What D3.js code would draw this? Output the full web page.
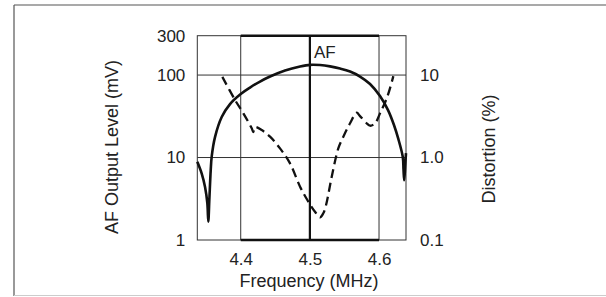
<!DOCTYPE html>
<html>
<head>
<meta charset="utf-8">
<script src="https://cdn.jsdelivr.net/npm/d3@7"></script>
<style>
    body { margin: 0; background: #fff; }
    text { font-family: Arial, "Liberation Sans", sans-serif; fill: #222; }
</style>
</head>
<body>
<div id="chart"></div>
<script>
// AF output level (mV) vs frequency (MHz) - solid curve
const af_freq = [4.3372, 4.3436, 4.3484, 4.3517, 4.3531, 4.3546, 4.3566, 4.3581, 4.3628, 4.3725, 4.3845,
    4.4000, 4.4134, 4.4279, 4.4424, 4.4641, 4.4858, 4.5003, 4.5147, 4.5292, 4.5436, 4.5581,
    4.5725, 4.5870, 4.6014, 4.6130, 4.6216, 4.6279, 4.6343, 4.6354, 4.6364, 4.6379, 4.6390];
const af_level = [8.9, 6.4, 4.4, 2.8, 1.67, 3.05, 7.0, 10.4, 17.7, 31.0, 44.5,
    58.9, 70.5, 83.4, 95.9, 113.4, 126.8, 133, 132.2, 127.4, 119.9, 110.2,
    95.9, 77.8, 55.6, 37.6, 24.8, 16.8, 10.2, 7.1, 5.3, 8.1, 11.3];

// Distortion (%) vs frequency (MHz) - dashed curve
const dist_freq = [4.3734, 4.3918, 4.4038, 4.4159, 4.4182, 4.4207, 4.4304, 4.4424, 4.4568, 4.4713,
    4.4858, 4.4978, 4.5074, 4.5147, 4.5194, 4.5234, 4.5316, 4.5411, 4.5484, 4.5581,
    4.5677, 4.5725, 4.5822, 4.5870, 4.5942, 4.6014, 4.6120, 4.6207];
const dist_pct = [9.5, 4.98, 3.43, 2.26, 2.04, 2.34, 2.15, 1.79, 1.29, 0.85,
    0.443, 0.291, 0.220, 0.188, 0.211, 0.266, 0.585, 1.29, 1.79, 2.60,
    3.49, 3.18, 2.60, 2.43, 2.60, 3.43, 5.46, 9.7];

const x_ticks = [4.4, 4.5, 4.6];
const x_tick_labels = ['4.4', '4.5', '4.6'];
const left_ticks = [1, 10, 100, 300];
const left_tick_labels = ['1', '10', '100', '300'];
const right_ticks = [0.1, 1, 10];
const right_tick_labels = ['0.1', '1.0', '10'];
const grid_levels = [10, 100];

const width = 606;
const height = 297;

const svg = d3.select('#chart')
    .append('svg')
    .attr('width', width)
    .attr('height', height);

// outer frame
svg.append('line').attr('x1', 14).attr('y1', 5).attr('x2', width).attr('y2', 5)
    .attr('stroke', '#555').attr('stroke-width', 1.2);
svg.append('line').attr('x1', 14).attr('y1', 5).attr('x2', 14).attr('y2', 296)
    .attr('stroke', '#555').attr('stroke-width', 1.2);
svg.append('line').attr('x1', 14).attr('y1', 295.5).attr('x2', width).attr('y2', 295.5)
    .attr('stroke', '#ccc').attr('stroke-width', 1);

// Scales
const x_scale = d3.scaleLinear()
    .domain([4.3372, 4.639])
    .range([197.3, 406]);

const y_left = d3.scaleLog()
    .domain([1, 300])
    .range([240, 35.7]);

const y_right = d3.scaleLog()
    .domain([0.1, 30])
    .range([240, 35.7]);

const [x0, x1] = x_scale.range();
const [y0, y1] = y_left.range();

// grid
const grid = svg.append('g').attr('stroke', '#333').attr('stroke-width', 1);

grid.append('rect')
    .attr('x', x0).attr('y', y1)
    .attr('width', x1 - x0).attr('height', y0 - y1)
    .attr('fill', 'none');

grid.selectAll('.hgrid')
    .data(grid_levels)
    .enter()
    .append('line')
    .attr('x1', x0).attr('x2', x1)
    .attr('y1', d => y_left(d)).attr('y2', d => y_left(d));

grid.selectAll('.vgrid')
    .data(x_ticks)
    .enter()
    .append('line')
    .attr('x1', d => x_scale(d)).attr('x2', d => x_scale(d))
    .attr('y1', y1).attr('y2', y0)
    .attr('stroke-width', d => d === 4.5 ? 2.2 : 1)
    .attr('stroke', d => d === 4.5 ? '#111' : '#333');

// bold frame segments between 4.4 and 4.6
[y1, y0].forEach(y => {
    svg.append('line')
        .attr('x1', x_scale(4.4)).attr('x2', x_scale(4.6))
        .attr('y1', y).attr('y2', y)
        .attr('stroke', '#111')
        .attr('stroke-width', 2.4);
});

// Curves
const af_line = d3.line()
    .x(d => x_scale(d[0]))
    .y(d => y_left(d[1]))
    .curve(d3.curveCatmullRom.alpha(0.5));

const dist_line = d3.line()
    .x(d => x_scale(d[0]))
    .y(d => y_right(d[1]))
    .curve(d3.curveCatmullRom.alpha(0.5));

svg.append('path')
    .datum(d3.zip(af_freq, af_level))
    .attr('d', af_line)
    .attr('fill', 'none')
    .attr('stroke', '#111')
    .attr('stroke-width', 2.6);

svg.append('path')
    .datum(d3.zip(dist_freq, dist_pct))
    .attr('d', dist_line)
    .attr('fill', 'none')
    .attr('stroke', '#111')
    .attr('stroke-width', 2.3)
    .attr('stroke-dasharray', '9,5');

// Axes (labels only)
const left_axis = d3.axisLeft(y_left)
    .tickValues(left_ticks)
    .tickFormat((d, i) => left_tick_labels[i])
    .tickSize(0)
    .tickPadding(12);

const right_axis = d3.axisRight(y_right)
    .tickValues(right_ticks)
    .tickFormat((d, i) => right_tick_labels[i])
    .tickSize(0)
    .tickPadding(14);

const bottom_axis = d3.axisBottom(x_scale)
    .tickValues(x_ticks)
    .tickFormat((d, i) => x_tick_labels[i])
    .tickSize(0)
    .tickPadding(13);

[
    svg.append('g').attr('transform', `translate(${x0},0)`).call(left_axis),
    svg.append('g').attr('transform', `translate(${x1},0)`).call(right_axis),
    svg.append('g').attr('transform', `translate(0,${y0})`).call(bottom_axis)
].forEach(g => {
    g.select('.domain').remove();
    g.selectAll('text')
        .attr('font-size', 17)
        .attr('font-family', 'Arial, "Liberation Sans", sans-serif')
        .attr('fill', '#222');
});

// Titles
svg.append('text')
    .text('Frequency (MHz)')
    .attr('x', 309)
    .attr('y', 287)
    .attr('font-size', 18)
    .attr('text-anchor', 'middle');

svg.append('text')
    .text('AF Output Level (mV)')
    .attr('transform', 'translate(118,147) rotate(-90)')
    .attr('font-size', 18)
    .attr('text-anchor', 'middle');

svg.append('text')
    .text('Distortion (%)')
    .attr('transform', 'translate(495,149) rotate(-90)')
    .attr('font-size', 18)
    .attr('text-anchor', 'middle');

svg.append('text')
    .text('AF')
    .attr('x', x_scale(4.5) + 4)
    .attr('y', 57.5)
    .attr('font-size', 17);
</script>
</body>
</html>
